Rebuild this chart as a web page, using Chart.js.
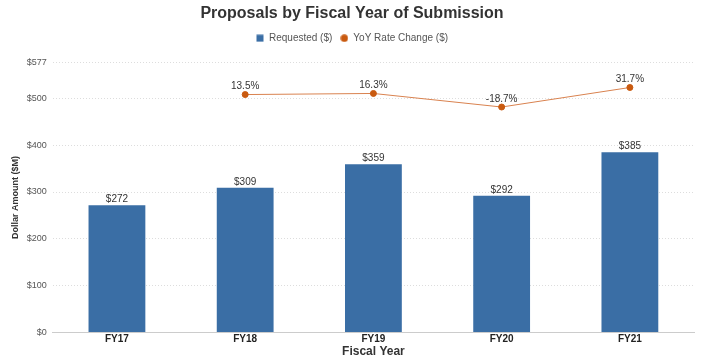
<!DOCTYPE html>
<html><head><meta charset="utf-8">
<script src="https://cdn.jsdelivr.net/npm/chart.js@4"></script>
<style>html,body{margin:0;padding:0;background:#fff}#wrap{width:703px;height:360px}</style>
</head><body><div id="wrap"><canvas id="c"></canvas></div>
<script>
const categories = ["FY17","FY18","FY19","FY20","FY21"];
const requested = [272,309,359,292,385];
const yoyChange = [null,13.5,16.3,-18.7,31.7];
const yTicks = [0,100,200,300,400,500,577];

const FONT = '"Liberation Sans", Arial, sans-serif';
const BAR_COLOR = '#3a6ea5';
const PT_COLOR = '#c95a10';

function legendIcon(kind, color){
  const c = document.createElement('canvas');
  c.width = 8; c.height = 8;
  const g = c.getContext('2d');
  g.fillStyle = color;
  if (kind === 'rect') { g.fillRect(0.5,0.5,7,7); }
  else { g.beginPath(); g.arc(4,4,3.7,0,Math.PI*2); g.fill(); }
  return c;
}
const rectIcon = legendIcon('rect', BAR_COLOR);
const circleIcon = legendIcon('circle', PT_COLOR);

const labelPlugin = {
  id:'labels',
  afterDatasetsDraw(chart){
    const ctx = chart.ctx;
    ctx.save();
    ctx.font = '10px ' + FONT;
    ctx.fillStyle = '#333';
    ctx.textAlign = 'center';
    ctx.textBaseline = 'bottom';
    chart.getDatasetMeta(0).data.forEach((el,i)=>{
      ctx.fillText('$'+requested[i], el.x, el.y-1);
    });
    chart.getDatasetMeta(1).data.forEach((el,i)=>{
      if (yoyChange[i]===null) return;
      ctx.fillText(yoyChange[i].toFixed(1)+'%', el.x, el.y-3);
    });
    ctx.restore();
  }
};

const legendSpace = {
  id:'legendSpace',
  beforeInit(chart){
    const fit = chart.legend.fit;
    chart.legend.fit = function(){ fit.call(this); this.height += 9; };
  }
};

new Chart(document.getElementById('c'), {
  data: {
    labels: categories,
    datasets: [
      {type:'bar', label:'Requested ($)', data: requested, backgroundColor:BAR_COLOR, borderWidth:0,
       categoryPercentage:1, barPercentage:0.443, yAxisID:'y', order:2},
      {type:'line', label:'YoY Rate Change ($)', data: yoyChange, borderColor:'#d9824f', borderWidth:1,
       backgroundColor:PT_COLOR, pointBackgroundColor:PT_COLOR, pointBorderColor:PT_COLOR,
       pointRadius:3, yAxisID:'y2', order:1, pointStyle:'circle', spanGaps:false}
    ]
  },
  options: {
    responsive:true, maintainAspectRatio:false, animation:false,
    layout:{padding:{left:10,right:9,top:2,bottom:0}},
    plugins:{
      title:{display:true, text:'Proposals by Fiscal Year of Submission', color:'#333',
        font:{family:FONT, size:16, weight:'bold'}, padding:{top:2,bottom:2}},
      legend:{display:true, labels:{usePointStyle:true, boxWidth:8, boxHeight:8, color:'#555',
        font:{family:FONT, size:10}, padding:8,
        generateLabels(chart){
          return chart.data.datasets.map((ds,i)=>({
            text: ds.label, datasetIndex:i, hidden:false, fontColor:'#555',
            pointStyle: i===0 ? rectIcon : circleIcon, lineWidth:0,
            fillStyle: i===0 ? BAR_COLOR : PT_COLOR, strokeStyle:'transparent'
          }));
        }}},
      tooltip:{enabled:false}
    },
    scales:{
      x:{grid:{display:false, drawTicks:false}, border:{color:'#ccc', width:1},
        ticks:{color:'#222', font:{family:FONT, size:10, weight:'bold'}, padding:1},
        title:{display:true, text:'Fiscal Year', color:'#333', font:{family:FONT, size:12, weight:'bold'}, padding:{top:-2,bottom:1}}},
      y:{min:0, max:577, position:'left',
        afterBuildTicks(s){ s.ticks = yTicks.map(v=>({value:v})); },
        grid:{color:'#ddd', borderDash:[1,2], drawTicks:false},
        border:{display:false, dash:[1,2]},
        ticks:{color:'#555', font:{family:FONT, size:9}, padding:6,
          callback:(v)=>'$'+v},
        title:{display:true, text:'Dollar Amount ($M)', color:'#333', font:{family:FONT, size:9, weight:'bold'}, padding:{top:0,bottom:0}}},
      y2:{display:false, min:-601, max:97}
    }
  },
  plugins:[labelPlugin, legendSpace]
});
</script></body></html>
